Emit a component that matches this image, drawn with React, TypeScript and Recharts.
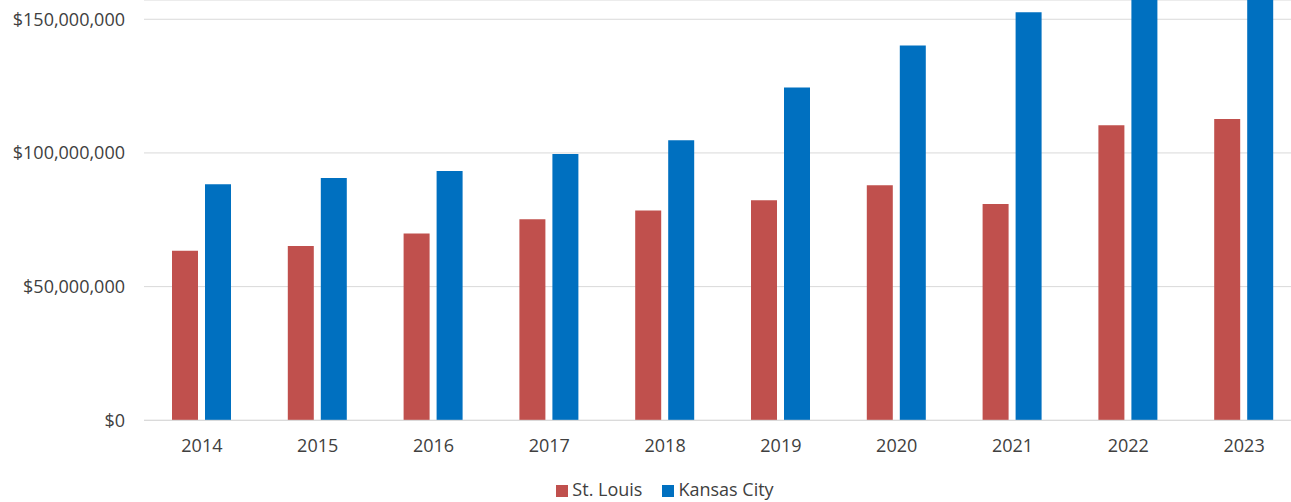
import React from 'react';
import { BarChart, Bar, XAxis, YAxis, CartesianGrid, Legend } from 'recharts';

// Annual totals by city, in dollars
const YEARS = ['2014', '2015', '2016', '2017', '2018', '2019', '2020', '2021', '2022', '2023'];
const ST_LOUIS = [63400000, 65200000, 69900000, 75200000, 78500000, 82300000, 87900000, 80900000, 110400000, 112700000];
const KANSAS_CITY = [88300000, 90600000, 93200000, 99600000, 104700000, 124500000, 140200000, 152600000, 168000000, 178000000];
const Y_TICKS = [0, 50000000, 100000000, 150000000];
const SERIES_ORDER = ['stLouis', 'kansasCity'];

const data = YEARS.map((year, i) => ({
  year,
  stLouis: ST_LOUIS[i],
  kansasCity: KANSAS_CITY[i],
}));

const formatDollars = (v: number) => '$' + v.toLocaleString('en-US');

const TEXT = '#404040';
const GRID = '#d9d9d9';
const FONT_SIZE = 18;

const App: React.FC = () => {
  return (
    <div
      style={{
        position: 'absolute',
        left: 0,
        top: 0,
        width: 1291,
        height: 502,
        overflow: 'hidden',
        background: '#fff',
        fontFamily: '"Open Sans", sans-serif',
      }}
    >
      <BarChart
        width={1302}
        height={502}
        data={data}
        margin={{ top: 0, right: 0, bottom: 0.7, left: 0 }}
        barSize={26}
        barGap={7}
      >
        <CartesianGrid vertical={false} stroke={GRID} />
        <XAxis
          dataKey="year"
          interval={0}
          height={61}
          tickLine={false}
          axisLine={{ stroke: GRID }}
          tickMargin={13}
          tick={{ fill: TEXT, fontSize: FONT_SIZE }}
        />
        <YAxis
          width={144}
          domain={[0, 157200000]}
          allowDataOverflow
          ticks={Y_TICKS}
          tickFormatter={formatDollars}
          axisLine={false}
          tickLine={false}
          tickMargin={13}
          tick={{ fill: TEXT, fontSize: FONT_SIZE }}
        />
        <Legend
          verticalAlign="bottom"
          iconType="square"
          iconSize={12}
          itemSorter={(item: any) => SERIES_ORDER.indexOf(item.dataKey)}
          wrapperStyle={{ left: 24, bottom: 3, height: 20, lineHeight: '20px', fontSize: FONT_SIZE }}
          formatter={(value) => <span style={{ color: TEXT, marginRight: 10 }}>{value}</span>}
        />
        <Bar dataKey="stLouis" name="St. Louis" fill="#C0504D" isAnimationActive={false} />
        <Bar dataKey="kansasCity" name="Kansas City" fill="#0070C0" isAnimationActive={false} />
      </BarChart>
    </div>
  );
};

export default App;
